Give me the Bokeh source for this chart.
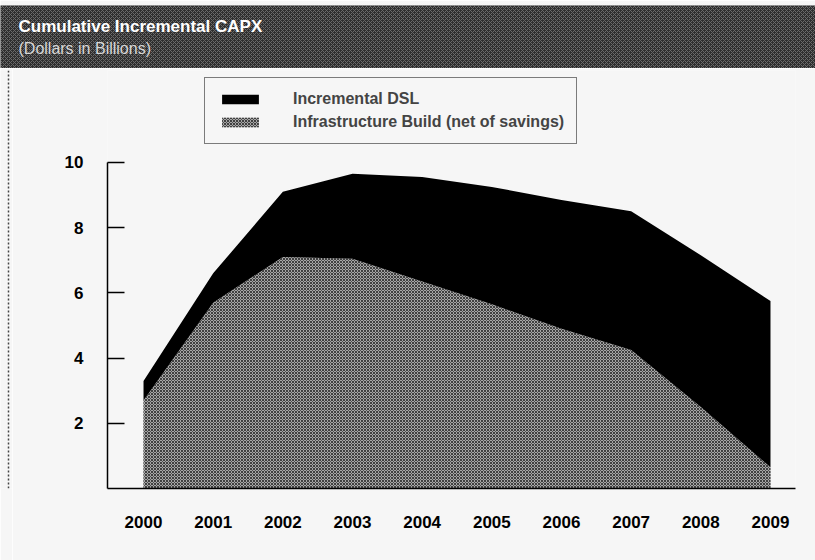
from bokeh.plotting import figure
from bokeh.models import (Range1d, FixedTicker, Legend, LegendItem, Label,
                          BoxAnnotation, Span, ColumnDataSource)
from bokeh.layouts import column, row
from bokeh.embed import file_html
from bokeh.resources import INLINE

# ---- data -------------------------------------------------------------
years = [2000, 2001, 2002, 2003, 2004, 2005, 2006, 2007, 2008, 2009]
year_labels = ["2000", "2001", "2002", "2003", "2004", "2005", "2006", "2007", "2008", "2009"]
infra_build = [2.7, 5.7, 7.1, 7.05, 6.35, 5.65, 4.9, 4.25, 2.5, 0.65]
incremental_dsl = [0.6, 0.9, 2.0, 2.6, 3.2, 3.6, 3.95, 4.25, 4.65, 5.1]
y_ticks = [2, 4, 6, 8, 10]
series_names = ["Incremental DSL", "Infrastructure Build (net of savings)"]
title_text = "Cumulative Incremental CAPX"
subtitle_text = "(Dollars in Billions)"

BG = "#f6f6f6"
FONT = "Liberation Sans"

# ---- header bar -------------------------------------------------------
header = figure(width=815, height=68, x_range=Range1d(0, 815), y_range=Range1d(68, 5),
                min_border_top=5, min_border_left=0, min_border_right=0, min_border_bottom=0,
                x_axis_location=None, y_axis_location=None,
                toolbar_location=None, output_backend="svg")
header.grid.visible = False
header.outline_line_color = None
header.border_fill_color = BG
header.background_fill_color = "#2e2e2e"
header.add_layout(BoxAnnotation(left=0, right=815, top=5, bottom=68, fill_alpha=0,
                                line_alpha=0, hatch_pattern="x", hatch_color="#6a6a6a",
                                hatch_scale=4, hatch_weight=1))
header.add_layout(Label(x=18, y=26, text=title_text, text_color="white",
                        text_font=FONT, text_font_style="bold",
                        text_font_size="17px", text_baseline="middle"))
header.add_layout(Label(x=18, y=48, text=subtitle_text, text_color="#d8d8d8",
                        text_font=FONT, text_font_size="16px",
                        text_baseline="middle"))

# ---- left dotted border strip ------------------------------------------
strip = figure(width=12, height=492, x_range=Range1d(0, 12), y_range=Range1d(0, 492),
               min_border=0, x_axis_location=None, y_axis_location=None,
               toolbar_location=None, output_backend="svg")
strip.grid.visible = False
strip.outline_line_color = None
strip.background_fill_color = BG
strip.border_fill_color = BG
strip.add_layout(Span(location=8, dimension="height", line_color="#444444",
                      line_dash="2 2", line_width=1.5))

# ---- main chart -------------------------------------------------------
src = ColumnDataSource(dict(year=years, infra=infra_build, dsl=incremental_dsl))

p = figure(width=803, height=492,
           x_range=Range1d(1999.483, 2009.359), y_range=Range1d(0, 12.82),
           min_border_left=95, min_border_right=20, min_border_top=2, min_border_bottom=72,
           toolbar_location=None, output_backend="svg")
p.background_fill_color = BG
p.border_fill_color = BG
p.outline_line_color = None
p.grid.visible = False

rs = p.varea_stack(["infra", "dsl"], x="year", source=src,
                   fill_color=["#a6a6a6", "#000000"])
rs[0].glyph.hatch_pattern = "x"
rs[0].glyph.hatch_color = "#404040"
rs[0].glyph.hatch_scale = 3
rs[0].glyph.hatch_weight = 1

legend = Legend(items=[LegendItem(label=series_names[0], renderers=[rs[1]]),
                       LegendItem(label=series_names[1], renderers=[rs[0]])],
                location=(97, 344))
legend.label_text_font = FONT
legend.label_text_font_style = "bold"
legend.label_text_font_size = "16px"
legend.glyph_width = 46
legend.glyph_height = 12
legend.label_standoff = 30
legend.padding = 12
legend.spacing = 5
legend.margin = 0
legend.border_line_color = "black"
legend.border_line_width = 1.5
legend.background_fill_color = BG
legend.background_fill_alpha = 1
p.add_layout(legend)

# y axis
p.yaxis.bounds = (0, 10)
p.yaxis.ticker = FixedTicker(ticks=y_ticks)
p.yaxis.major_tick_in = 17
p.yaxis.major_tick_out = 0
p.yaxis.minor_tick_line_color = None
p.yaxis.axis_line_width = 1.5
p.yaxis.major_tick_line_width = 1.5
p.yaxis.major_label_standoff = 24
p.yaxis.major_label_text_font = FONT
p.yaxis.major_label_text_font_style = "bold"
p.yaxis.major_label_text_font_size = "17px"
p.yaxis.major_label_text_color = "black"

# x axis
p.xaxis.ticker = FixedTicker(ticks=years)
p.xaxis.major_label_overrides = {y: l for y, l in zip(years, year_labels)}
p.xaxis.major_tick_in = 0
p.xaxis.major_tick_out = 0
p.xaxis.minor_tick_line_color = None
p.xaxis.axis_line_width = 1.5
p.xaxis.major_label_standoff = 27
p.xaxis.major_label_text_font = FONT
p.xaxis.major_label_text_font_style = "bold"
p.xaxis.major_label_text_font_size = "17px"
p.xaxis.major_label_text_color = "black"

layout = column(header, row(strip, p, spacing=0), spacing=0)

open("out.html", "w").write(file_html(layout, INLINE))
